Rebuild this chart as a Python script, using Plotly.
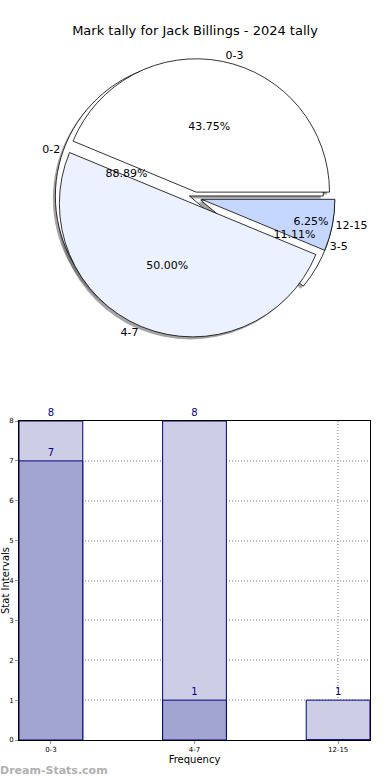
import plotly.graph_objects as go

title = "Mark tally for Jack Billings - 2024 tally"

# Pie 1 data
pie1_labels = ["0-3", "4-7", "12-15"]
pie1_values = [7, 8, 1]
# Pie 2 data
pie2_labels = ["0-2", "3-5"]
pie2_values = [8, 1]

# Bar data
bar_categories = ["0-3", "4-7", "12-15"]
bar_light = [8, 8, 1]
bar_dark = [7, 1, 0]
y_ticks = [0, 1, 2, 3, 4, 5, 6, 7, 8]

W, H = 390, 780
FONT = "DejaVu Sans"

pie1_colors = ["#FFFFFF", "#EBF1FE", "#C5D7FE"]
pie1_pull = [0.045, 0.045, 0.05]
pie2_pull = [0.045, 0.045]


def start_rotation(values):
    # plotly (counterclockwise): first slice occupies [rotation, rotation + a1]
    # measured clockwise from 12 o'clock; make first slice start at 3 o'clock going ccw
    return 90 - 360.0 * values[0] / sum(values)


rot1 = start_rotation(pie1_values)
rot2 = start_rotation(pie2_values)

# pie geometry (pixels)
cx, cy, half = 195, 198, 140
dom_x = [(cx - half) / W, (cx + half) / W]
dom_y = [(H - cy - half) / H, (H - cy + half) / H]
sx, sy = 2.5 / W, 2.5 / H
dom_x_sh = [dom_x[0] - sx, dom_x[1] - sx]
dom_y_sh = [dom_y[0] - sy, dom_y[1] - sy]

common = dict(sort=False, direction="counterclockwise",
              hoverinfo="skip", showlegend=False)

fig = go.Figure()

# shadow
fig.add_trace(go.Pie(labels=pie2_labels, values=pie2_values, pull=pie2_pull, rotation=rot2,
                     domain=dict(x=dom_x_sh, y=dom_y_sh), textinfo="none",
                     marker=dict(colors=["rgba(90,90,90,0.55)"] * 2, line=dict(width=0)),
                     **common))
fig.add_trace(go.Pie(labels=pie1_labels, values=pie1_values, pull=pie1_pull, rotation=rot1,
                     domain=dict(x=dom_x_sh, y=dom_y_sh), textinfo="none",
                     marker=dict(colors=["rgba(90,90,90,0.55)"] * 3, line=dict(width=0)),
                     **common))
# pie 2 background
fig.add_trace(go.Pie(labels=pie2_labels, values=pie2_values, pull=pie2_pull, rotation=rot2,
                     domain=dict(x=dom_x, y=dom_y), textinfo="none",
                     marker=dict(colors=["#FFFFFF", "#FFFFFF"], line=dict(color="black", width=0.8)),
                     **common))
# pie 1
fig.add_trace(go.Pie(labels=pie1_labels, values=pie1_values, pull=pie1_pull, rotation=rot1,
                     domain=dict(x=dom_x, y=dom_y), textinfo="percent",
                     texttemplate="%{percent:.2%}", textposition="inside",
                     insidetextorientation="horizontal",
                     textfont=dict(family=FONT, size=11, color="black"),
                     marker=dict(colors=pie1_colors, line=dict(color="black", width=0.8)),
                     **common))
# pie 1 outside labels
fig.add_trace(go.Pie(labels=pie1_labels, values=pie1_values, pull=pie1_pull, rotation=rot1,
                     domain=dict(x=dom_x, y=dom_y), textinfo="label", textposition="outside",
                     textfont=dict(family=FONT, size=11, color="black"),
                     marker=dict(colors=["rgba(0,0,0,0)"] * 3, line=dict(width=0)),
                     **common))
# pie 2 percentages
fig.add_trace(go.Pie(labels=pie2_labels, values=pie2_values, pull=pie2_pull, rotation=rot2,
                     domain=dict(x=dom_x, y=dom_y), texttemplate="%{percent:.2%}",
                     textposition="inside", insidetextorientation="horizontal",
                     textfont=dict(family=FONT, size=11, color="black"),
                     marker=dict(colors=["rgba(0,0,0,0)"] * 2, line=dict(width=0)),
                     **common))
# pie 2 outside labels
fig.add_trace(go.Pie(labels=pie2_labels, values=pie2_values, pull=pie2_pull, rotation=rot2,
                     domain=dict(x=dom_x, y=dom_y), textinfo="label", textposition="outside",
                     textfont=dict(family=FONT, size=11, color="black"),
                     marker=dict(colors=["rgba(0,0,0,0)"] * 2, line=dict(width=0)),
                     **common))

# bars
bw = 0.444
fig.add_trace(go.Bar(x=bar_categories, y=bar_light, width=bw,
                     marker=dict(color="#CDCDE5", line=dict(color="#000080", width=1)),
                     text=[str(v) if v > 0 else "" for v in bar_light], textposition="outside",
                     textfont=dict(family=FONT, size=10, color="#000080"),
                     cliponaxis=False, hoverinfo="skip", showlegend=False))
fig.add_trace(go.Bar(x=bar_categories, y=bar_dark, width=bw,
                     marker=dict(color="#A3A5D1", line=dict(color="#000080", width=1)),
                     text=[str(v) if v > 0 else "" for v in bar_dark], textposition="outside",
                     textfont=dict(family=FONT, size=10, color="#000080"),
                     cliponaxis=False, hoverinfo="skip", showlegend=False))

grid = dict(showgrid=True, gridcolor="#BBBBBB", griddash="1px,2px", gridwidth=1.5)
fig.update_layout(
    width=W, height=H,
    margin=dict(l=0, r=0, t=0, b=0),
    paper_bgcolor="white", plot_bgcolor="white",
    barmode="overlay",
    font=dict(family=FONT, color="black"),
    title=dict(text=title, x=0.5, xanchor="center", y=1 - 30 / H, yanchor="middle",
               font=dict(family=FONT, size=13, color="black")),
    xaxis=dict(domain=[19 / W, 370 / W], range=[-bw / 2, 2 + bw / 2], type="category",
               automargin=False,
               showline=True, linecolor="black", linewidth=1, mirror=True,
               ticks="outside", ticklen=3, tickcolor="#999999",
               tickfont=dict(family=FONT, size=7, color="black"),
               title=dict(text="Frequency", font=dict(family=FONT, size=10, color="black"), standoff=2),
               zeroline=False, **grid),
    yaxis=dict(domain=[(H - 740) / H, (H - 421) / H], range=[0, 8],
               automargin=False,
               tickvals=y_ticks, ticktext=[str(v) for v in y_ticks],
               showline=True, linecolor="black", linewidth=1, mirror=True,
               ticks="outside", ticklen=3, tickcolor="#999999",
               tickfont=dict(family=FONT, size=7, color="black"),
               title=dict(text="Stat Intervals", font=dict(family=FONT, size=10, color="black"), standoff=2),
               zeroline=False, **grid),
    annotations=[dict(text="<b>Dream-Stats.com</b>", x=-2 / W, y=(H - 770) / H, xref="paper", yref="paper",
                      xanchor="left", yanchor="middle", showarrow=False,
                      font=dict(family=FONT, size=11, color="#B0B0B0"))],
)

fig.write_html("out.html", config={"displayModeBar": False},
               post_script="document.body.style.margin='0';")
